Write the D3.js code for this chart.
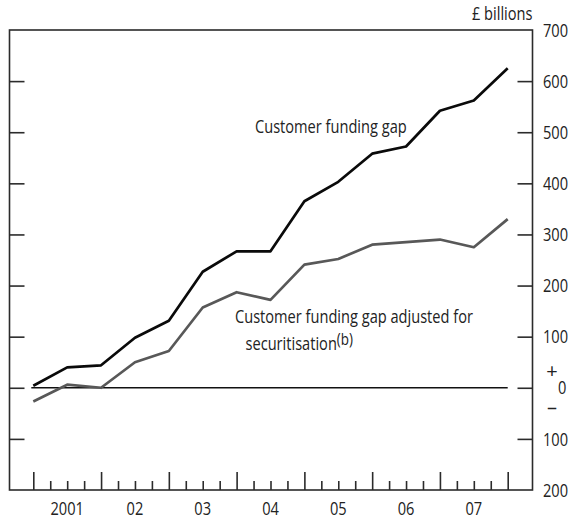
<!DOCTYPE html>
<html>
<head>
<meta charset="utf-8">
<script src="https://cdn.jsdelivr.net/npm/d3@7"></script>
<style>
  html, body { margin: 0; padding: 0; background: #fff; }
  svg text { font-family: "Open Sans", "Noto Sans", sans-serif; fill: #222; }
</style>
</head>
<body>
<svg id="chart" width="571" height="520"></svg>
<script>
// Half-yearly observations, end-2000 to end-2007 (£ billions)
const periods = [2001, 2001.5, 2002, 2002.5, 2003, 2003.5, 2004, 2004.5, 2005, 2005.5, 2006, 2006.5, 2007, 2007.5, 2008];
const fundingGap = [4, 40, 44, 98, 131, 227, 267, 267, 365, 403, 458, 472, 542, 562, 625];
const fundingGapAdjusted = [-27, 6, 0, 50, 72, 157, 187, 172, 241, 252, 280, 285, 290, 275, 330];
const yearLabels = ["2001", "02", "03", "04", "05", "06", "07"];
const yTickValues = [700, 600, 500, 400, 300, 200, 100, 0, -100, -200];
const yTickLabels = ["700", "600", "500", "400", "300", "200", "100", "0", "100", "200"];

const svg = d3.select("#chart");
const frame = { left: 9.5, right: 532.5, top: 30, bottom: 490 };

const x = d3.scaleLinear().domain([2001, 2008]).range([33.3, 507.7]);
const y = d3.scaleLinear().domain([-200, 700]).range([frame.bottom, frame.top]);

const ink = "#2b2b2b";
const fontSize = 18.5;
const condense = 0.79; // emulate the condensed face of the original

function label(parent, px, py, str, anchor = "start", dy = null, k = condense, fs = fontSize) {
  const t = parent.append("text")
    .attr("transform", `translate(${px},${py}) scale(${k},1)`)
    .attr("text-anchor", anchor)
    .attr("font-size", fs);
  if (dy) t.attr("dy", dy);
  if (str !== null) t.text(str);
  return t;
}

// Frame
svg.append("rect")
  .attr("x", frame.left).attr("y", frame.top)
  .attr("width", frame.right - frame.left).attr("height", frame.bottom - frame.top)
  .attr("fill", "none").attr("stroke", ink).attr("stroke-width", 1.6);

// Left / right inner ticks
const innerTicks = yTickValues.filter(v => v !== 700 && v !== -200);
svg.append("g").attr("transform", `translate(${frame.left},0)`)
  .call(d3.axisRight(y).tickValues(innerTicks).tickSize(15).tickFormat(""))
  .call(g => g.select(".domain").remove())
  .call(g => g.selectAll("line").attr("stroke", ink).attr("stroke-width", 1.6));
svg.append("g").attr("transform", `translate(${frame.right},0)`)
  .call(d3.axisLeft(y).tickValues(innerTicks).tickSize(15).tickFormat(""))
  .call(g => g.select(".domain").remove())
  .call(g => g.selectAll("line").attr("stroke", ink).attr("stroke-width", 1.6));

// Right-hand labels
const yLab = svg.append("g");
yTickValues.forEach((v, i) => {
  if (v === 0) return;
  label(yLab, 543, y(v), yTickLabels[i], "start", "0.36em");
});
label(yLab, 558, y(0), "0", "start", "0.36em");
label(yLab, 552, y(0) - 17, "+", "middle", "0.36em", 1, 20);
label(yLab, 552, y(0) + 19, "\u2013", "middle", "0.36em", 1, 20);

// Units label
label(svg, frame.right, 20, "£ billions", "end");

// Bottom x ticks: majors at years, minors at quarters
const majorTicks = d3.range(2001, 2009, 1);
const minorTicks = d3.range(2001, 2008, 0.25).filter(v => !Number.isInteger(v));
svg.append("g").attr("transform", `translate(0,${frame.bottom})`)
  .call(d3.axisTop(x).tickValues(majorTicks).tickSize(18).tickFormat(""))
  .call(g => g.select(".domain").remove())
  .call(g => g.selectAll("line").attr("stroke", ink).attr("stroke-width", 1.6));
svg.append("g").attr("transform", `translate(0,${frame.bottom})`)
  .call(d3.axisTop(x).tickValues(minorTicks).tickSize(9).tickFormat(""))
  .call(g => g.select(".domain").remove())
  .call(g => g.selectAll("line").attr("stroke", ink).attr("stroke-width", 1.6));

// Year labels centred within each year
const xLab = svg.append("g");
yearLabels.forEach((d, i) => label(xLab, x(2001 + i + 0.5), 515, d, "middle"));

// Zero line
svg.append("line")
  .attr("x1", x(2001) - 2).attr("x2", x(2008))
  .attr("y1", y(0)).attr("y2", y(0))
  .attr("stroke", "#111").attr("stroke-width", 1.6);

// Series
const line = d3.line().x(d => x(d[0])).y(d => y(d[1]));
svg.append("path")
  .datum(periods.map((p, i) => [p, fundingGapAdjusted[i]]))
  .attr("d", line).attr("fill", "none")
  .attr("stroke", "#585858").attr("stroke-width", 2.7).attr("stroke-linejoin", "round");
svg.append("path")
  .datum(periods.map((p, i) => [p, fundingGap[i]]))
  .attr("d", line).attr("fill", "none")
  .attr("stroke", "#0a0a0a").attr("stroke-width", 2.7).attr("stroke-linejoin", "round");

// Annotations
label(svg, 255, 133, "Customer funding gap");
label(svg, 235, 323, "Customer funding gap adjusted for");
const t2 = label(svg, 245.5, 350, null);
t2.append("tspan").text("securitisation");
t2.append("tspan").attr("font-size", 17).attr("dy", -5).text("(b)");
</script>
</body>
</html>
